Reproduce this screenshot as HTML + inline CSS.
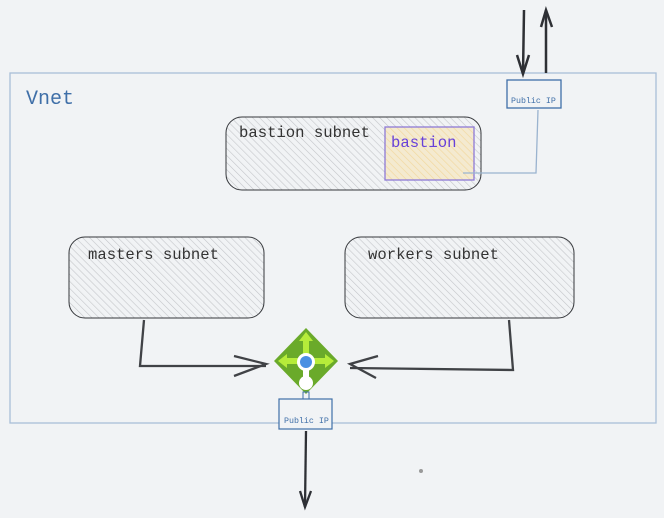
<!DOCTYPE html>
<html><head><style>
html,body{margin:0;padding:0;background:#f1f3f5;}
svg{display:block}
text{font-family:"Liberation Mono",monospace;}
</style></head><body>
<svg width="664" height="518" viewBox="0 0 664 518" xmlns="http://www.w3.org/2000/svg">
<defs>
<pattern id="h" width="5" height="5" patternUnits="userSpaceOnUse" patternTransform="rotate(-45)">
<rect width="5" height="5" fill="#f1f3f5"/><line x1="0" y1="0" x2="0" y2="5" stroke="#c4c6ca" stroke-width="1.2"/></pattern>
<pattern id="y" width="5" height="5" patternUnits="userSpaceOnUse" patternTransform="rotate(-45)">
<rect width="5" height="5" fill="#f4ead0"/><line x1="0" y1="0" x2="0" y2="5" stroke="#f2d9a0" stroke-width="1.4"/></pattern>
</defs>
<rect width="664" height="518" fill="#f1f3f5"/>
<rect x="10" y="73" width="646" height="350" fill="none" stroke="#a9bfd8" stroke-width="1.3"/>
<text x="26" y="104" font-size="20" fill="#3f6fa8">Vnet</text>
<rect x="226" y="117" width="255" height="73" rx="16" fill="url(#h)" stroke="#35373b" stroke-width="1"/>
<text x="239" y="137" font-size="15.6" fill="#333">bastion subnet</text>
<rect x="385" y="127" width="89" height="53" fill="url(#y)" stroke="#8e7ad6" stroke-width="1.3"/>
<text x="391" y="147" font-size="15.6" fill="#6741d9">bastion</text>
<polyline points="463,173 536,173 538,110" fill="none" stroke="#9ab3cf" stroke-width="1.3"/>
<rect x="507" y="80" width="54" height="28" fill="#f1f3f5" stroke="#3f6fa8" stroke-width="1.3"/>
<text x="511" y="103" font-size="8.3" fill="#3f6fa8">Public IP</text>
<line x1="524" y1="10" x2="523" y2="74" stroke="#2e3035" stroke-width="2.5"/>
<polyline points="517,55 523,74 529,55" fill="none" stroke="#2e3035" stroke-width="2.5"/>
<line x1="546" y1="10" x2="546" y2="73" stroke="#2e3035" stroke-width="2.5"/>
<polyline points="541,27 546,10 552,27" fill="none" stroke="#2e3035" stroke-width="2.5"/>
<rect x="69" y="237" width="195" height="81" rx="16" fill="url(#h)" stroke="#35373b" stroke-width="1"/>
<text x="88" y="259" font-size="15.6" fill="#333">masters subnet</text>
<rect x="345" y="237" width="229" height="81" rx="16" fill="url(#h)" stroke="#35373b" stroke-width="1"/>
<text x="368" y="259" font-size="15.6" fill="#333">workers subnet</text>
<polyline points="144,320 140,366 266,366" fill="none" stroke="#404246" stroke-width="2.3"/>
<polyline points="234,356 266,364 234,376" fill="none" stroke="#404246" stroke-width="2.3"/>
<polyline points="509,320 513,370 350,368" fill="none" stroke="#404246" stroke-width="2.3"/>
<polyline points="378,356 350,364 376,378" fill="none" stroke="#404246" stroke-width="2.3"/>
<polygon points="306,328 338,361 306,394 274,361" fill="#6aaa2a"/>
<g fill="#b6ec3a">
<polygon points="306,332 313,341 309,341 309,356 303,356 303,341 299,341"/>
<polygon points="334,361 325,354 325,358 310,358 310,364 325,364 325,368"/>
<polygon points="278,361 287,354 287,358 302,358 302,364 287,364 287,368"/>
</g>
<line x1="306" y1="362" x2="306" y2="383" stroke="#fff" stroke-width="6"/>
<circle cx="306" cy="362" r="9" fill="#fff"/><circle cx="306" cy="362" r="6" fill="#4a90e2"/>
<circle cx="306" cy="383" r="7" fill="#fff"/>
<rect x="303" y="392" width="6" height="8" fill="none" stroke="#3f6fa8" stroke-width="1"/>
<rect x="279" y="399" width="53" height="30" fill="#f1f3f5" stroke="#3f6fa8" stroke-width="1.2"/>
<text x="284" y="423" font-size="8.3" fill="#3f6fa8">Public IP</text>
<line x1="306" y1="431" x2="305" y2="507" stroke="#2e3035" stroke-width="2.3"/>
<polyline points="300,491 305,507 311,491" fill="none" stroke="#2e3035" stroke-width="2.3"/>
<circle cx="421" cy="471" r="2" fill="#999"/>
</svg>
</body></html>
